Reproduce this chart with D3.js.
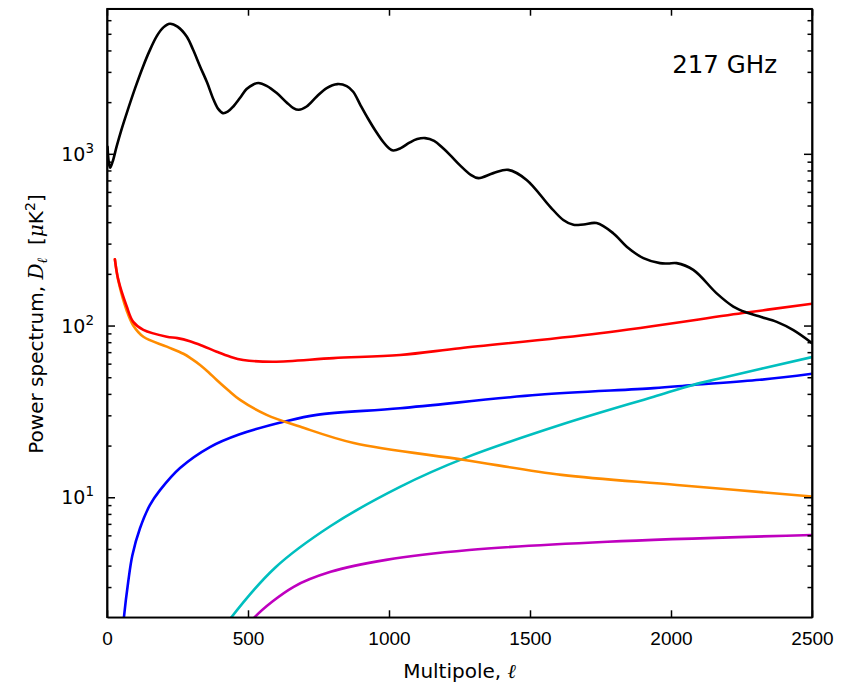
<!DOCTYPE html>
<html>
<head>
<meta charset="utf-8">
<script src="https://cdn.jsdelivr.net/npm/d3@7"></script>
<style>
  body { margin: 0; background: #fff; }
  svg { font-family: "DejaVu Sans", sans-serif; }
  .axis path, .axis line { stroke: #000; stroke-width: 1.5; }
  .axis text { fill: #000; }
  .curve { fill: none; stroke-width: 2.6; stroke-linejoin: round; stroke-linecap: round; }
</style>
</head>
<body>
<div id="chart"></div>
<script>
// multipole / D_ell pairs
var ellCmb = [2, 6, 11, 20, 34, 50, 70, 100, 128, 150, 176, 200, 223, 250, 282, 305, 330, 355, 378, 395, 411, 428, 448, 472, 495, 519, 537, 566, 602, 637, 661, 680, 708, 744, 779, 817, 850, 873, 900, 926, 952, 979, 1000, 1015, 1040, 1074, 1100, 1128, 1160, 1190, 1216, 1252, 1290, 1317, 1370, 1423, 1488, 1571, 1618, 1654, 1690, 1736, 1795, 1843, 1902, 1961, 1990, 2020, 2079, 2162, 2221, 2268, 2320, 2375, 2434, 2500];
var cmb    = [1100, 900, 830, 900, 1100, 1360, 1726, 2420, 3228, 3950, 4833, 5450, 5720, 5500, 4833, 4050, 3228, 2600, 2064, 1820, 1726, 1760, 1886, 2120, 2383, 2535, 2584, 2489, 2259, 1992, 1846, 1805, 1886, 2158, 2416, 2547, 2480, 2300, 1905, 1600, 1362, 1175, 1077, 1045, 1075, 1165, 1218, 1235, 1190, 1084, 987, 857, 755, 722, 772, 806, 705, 493, 412, 386, 388, 395, 345, 288, 247, 231, 230, 231, 211, 154, 129, 119, 112, 105, 94, 79];

var ellTotal = [28, 40, 70, 93, 129, 212, 250, 294, 340, 389, 435, 483, 590, 803, 1039, 1252, 1748, 2268, 2500];
var totalFg  = [243, 185, 129, 105, 94.3, 86.1, 84.5, 81, 76, 70.4, 66, 63, 61.6, 64.6, 67.4, 73.8, 90.2, 119, 134];

var ellDust = [28, 40, 70, 93, 129, 212, 271, 300, 330, 360, 389, 430, 472, 566, 684, 875, 1268, 1612, 2021, 2500];
var dust    = [243, 183, 122, 100, 86, 75.4, 68.5, 64, 59, 53.5, 48.2, 42, 36.9, 30.2, 25.8, 20.7, 16.5, 13.5, 11.8, 10.1];

var ellCib = [50, 60, 75, 90, 117, 152, 188, 259, 365, 468, 630, 744, 1039, 1530, 1939, 2078, 2315, 2500];
var cib    = [1.3, 2.0, 3.2, 4.6, 6.6, 9.0, 11.0, 14.8, 19.6, 23.2, 27.6, 30.2, 33, 39.5, 43.2, 45.1, 48.3, 52.4];

var ellPs = [400, 441, 597, 793, 1039, 1268, 1612, 1939, 2078, 2168, 2500];
var ps    = [1.6, 2.0, 3.9, 6.8, 11.5, 16.9, 26.5, 38.5, 45.1, 49, 65.5];

var ellSz = [480, 523, 662, 793, 990, 1284, 1775, 2500];
var sz    = [1.6, 2.0, 3.01, 3.68, 4.32, 4.93, 5.51, 6.03];

var xTicks = [0, 500, 1000, 1500, 2000, 2500];
var yMajor = [10, 100, 1000];
var yMinor = [3, 4, 5, 6, 7, 8, 9, 20, 30, 40, 50, 60, 70, 80, 90, 200, 300, 400, 500, 600, 700, 800, 900, 2000, 3000, 4000, 5000, 6000, 7000];

var width = 852, height = 686;
var margin = {top: 8.7, right: 40, bottom: 68.7, left: 107};
var plotW = 812 - margin.left;
var plotH = height - margin.top - margin.bottom;

var svg = d3.select("#chart").append("svg")
    .attr("width", width)
    .attr("height", height);

var x = d3.scaleLinear().domain([0, 2500]).range([margin.left, margin.left + plotW]);
var y = d3.scaleLog().domain([2, 7000]).range([margin.top + plotH, margin.top]);

svg.append("defs").append("clipPath").attr("id", "plotClip")
  .append("rect")
    .attr("x", margin.left).attr("y", margin.top)
    .attr("width", plotW).attr("height", plotH);

var line = d3.line()
    .x(function(d) { return x(d[0]); })
    .y(function(d) { return y(d[1]); })
    .curve(d3.curveCatmullRom.alpha(0.5));

var series = [
  {ell: ellCib, val: cib, color: "#0000ff"},
  {ell: ellPs, val: ps, color: "#00bfbf"},
  {ell: ellSz, val: sz, color: "#bf00bf"},
  {ell: ellDust, val: dust, color: "#ff8c00"},
  {ell: ellTotal, val: totalFg, color: "#ff0000"},
  {ell: ellCmb, val: cmb, color: "#000000"}
];

var curves = svg.append("g").attr("clip-path", "url(#plotClip)");
series.forEach(function(s) {
  curves.append("path")
      .datum(d3.zip(s.ell, s.val))
      .attr("class", "curve")
      .attr("stroke", s.color)
      .attr("d", line);
});

// axes, ticks pointing inward on all four sides
var bottom = margin.top + plotH, right = margin.left + plotW;

svg.append("g").attr("class", "axis")
    .attr("transform", "translate(0," + bottom + ")")
    .call(d3.axisBottom(x).tickValues(xTicks).tickFormat(d3.format("d"))
      .tickSizeInner(-7).tickSizeOuter(0).tickPadding(14))
    .selectAll("text").style("font-size", "19px");

svg.append("g").attr("class", "axis")
    .attr("transform", "translate(0," + margin.top + ")")
    .call(d3.axisTop(x).tickValues(xTicks).tickSizeInner(-7).tickSizeOuter(0).tickFormat(""));

svg.append("g").attr("class", "axis")
    .attr("transform", "translate(" + margin.left + ",0)")
    .call(d3.axisLeft(y).tickValues(yMajor).tickSizeInner(-8).tickSizeOuter(0).tickFormat(""));
svg.append("g").attr("class", "axis")
    .attr("transform", "translate(" + margin.left + ",0)")
    .call(d3.axisLeft(y).tickValues(yMinor).tickSizeInner(-4.5).tickSizeOuter(0).tickFormat(""));
svg.append("g").attr("class", "axis")
    .attr("transform", "translate(" + right + ",0)")
    .call(d3.axisRight(y).tickValues(yMajor).tickSizeInner(-8).tickSizeOuter(0).tickFormat(""));
svg.append("g").attr("class", "axis")
    .attr("transform", "translate(" + right + ",0)")
    .call(d3.axisRight(y).tickValues(yMinor).tickSizeInner(-4.5).tickSizeOuter(0).tickFormat(""));

// y tick labels as 10^n
yMajor.forEach(function(v) {
  var t = svg.append("text")
      .attr("x", margin.left - 13)
      .attr("y", y(v) + 7)
      .attr("text-anchor", "end")
      .style("font-size", "19px");
  t.append("tspan").text("10");
  t.append("tspan").attr("dy", -8).style("font-size", "13.5px").text(Math.round(Math.log10(v)));
});

// frame
svg.append("rect")
    .attr("x", margin.left).attr("y", margin.top)
    .attr("width", plotW).attr("height", plotH)
    .attr("fill", "none").attr("stroke", "#000").attr("stroke-width", 1.5);

// labels
var xl = svg.append("text")
    .attr("x", (margin.left + right) / 2)
    .attr("y", 678)
    .attr("text-anchor", "middle")
    .style("font-size", "20px");
xl.append("tspan").text("Multipole, ");
xl.append("tspan").style("font-style", "italic").style("font-family", "DejaVu Serif").text("ℓ");

var yl = svg.append("text")
    .attr("transform", "translate(43,324) rotate(-90)")
    .attr("text-anchor", "middle")
    .style("font-size", "20px");
yl.append("tspan").text("Power spectrum, ");
yl.append("tspan").style("font-style", "italic").style("font-family", "DejaVu Serif").text("D");
yl.append("tspan").attr("dy", 4).style("font-size", "14px").style("font-style", "italic").style("font-family", "DejaVu Serif").text("ℓ");
yl.append("tspan").attr("dy", -4).text("\u00a0\u00a0[");
yl.append("tspan").style("font-style", "italic").style("font-family", "DejaVu Serif").text("μ");
yl.append("tspan").text("K");
yl.append("tspan").attr("dy", -8).style("font-size", "14px").text("2");
yl.append("tspan").attr("dy", 8).text("]");

svg.append("text")
    .attr("x", 777)
    .attr("y", 73.3)
    .attr("text-anchor", "end")
    .style("font-size", "24.5px")
    .text("217 GHz");
</script>
</body>
</html>
